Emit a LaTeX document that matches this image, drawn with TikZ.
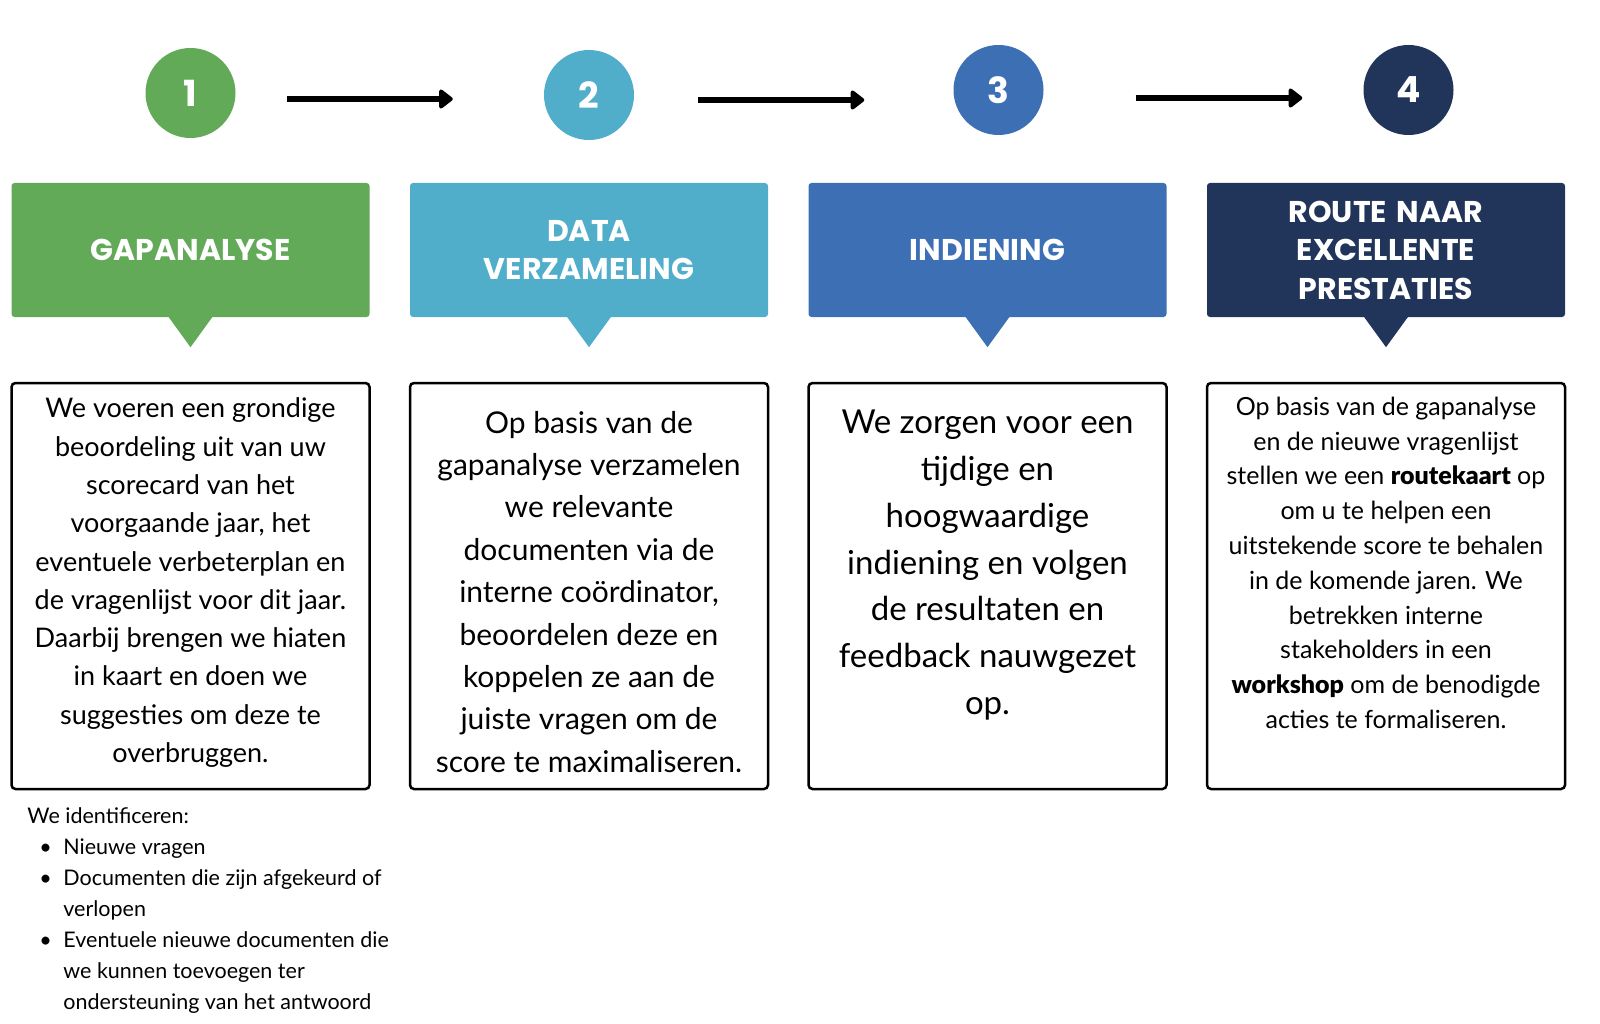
\documentclass[tikz,border=0pt]{standalone}
\usepackage{fontspec}
\setmainfont{Lato}
\newfontfamily\headfont{Poppins}
\newfontfamily\heavyfont{Lato Black}
\usetikzlibrary{positioning,arrows.meta}
\definecolor{gapgreen}{RGB}{98,170,88}
\definecolor{datablue}{RGB}{80,174,203}
\definecolor{indblue}{RGB}{61,111,180}
\definecolor{routenavy}{RGB}{33,53,90}
\newcommand{\keyword}[1]{{\heavyfont #1}}

\begin{document}
\begin{tikzpicture}[
		x=1pt, y=-1pt,
		node distance = 398.5pt,
		stepnum/.style={
			circle,
			minimum size=90pt,
			inner sep=0pt,
			text=white,
			font=\headfont\bfseries\fontsize{36}{36}\selectfont
			},
		header/.style={
			rectangle,
			rounded corners=3pt,
			minimum width=358pt,
			minimum height=134pt,
			text width=340pt,
			align=center,
			text=white,
			font=\headfont\bfseries\fontsize{30}{38.5}\selectfont
			},
		card/.style={
			rectangle,
			draw=black,
			line width=2.5pt,
			rounded corners=4pt,
			minimum width=358pt,
			minimum height=406pt
			},
		cardtext/.style={
			anchor=north,
			align=center,
			inner sep=0pt
			},
		line/.style={
			draw,
			line width=6pt,
			-{Triangle[length=15pt,width=22pt,round]}
			}]
	    \useasboundingbox (0,0) rectangle (1600,1024);

	    % Place nodes
	    \node [header, fill=gapgreen] (h1) at (190.5,250) {GAPANALYSE};
	    \node [header, fill=datablue, right of=h1] (h2) {DATA\\VERZAMELING};
	    \node [header, fill=indblue, right of=h2] (h3) {INDIENING};
	    \node [header, fill=routenavy, right of=h3] (h4) {ROUTE NAAR\\EXCELLENTE\\PRESTATIES};

	    \node [stepnum, fill=gapgreen, above of=h1, node distance=157pt] (c1) {1};
	    \node [stepnum, fill=datablue, above of=h2, node distance=155pt] (c2) {2};
	    \node [stepnum, fill=indblue, above of=h3, node distance=160pt, xshift=11pt] (c3) {3};
	    \node [stepnum, fill=routenavy, above of=h4, node distance=160pt, xshift=22.5pt] (c4) {4};

	    \node [card, below of=h1, node distance=336pt] (t1) {};
	    \node [card, below of=h2, node distance=336pt] (t2) {};
	    \node [card, below of=h3, node distance=336pt] (t3) {};
	    \node [card, below of=h4, node distance=336pt] (t4) {};

	    % Pointers under the headers
	    \foreach \h/\c in {h1/gapgreen, h2/datablue, h3/indblue, h4/routenavy}
	    	\fill [\c] ([xshift=-22.5pt, yshift=1pt]\h.south) -- ([xshift=22.5pt, yshift=1pt]\h.south) -- ([yshift=-30pt]\h.south) -- cycle;

	    % Card texts
	    \node [cardtext, font=\fontsize{27}{38.3}\selectfont] (d1) at ([yshift=-16pt]t1.north)
	    	{We voeren een grondige\\beoordeling uit van uw\\scorecard van het\\voorgaande jaar, het\\eventuele verbeterplan en\\de vragenlijst voor dit jaar.\\Daarbij brengen we hiaten\\in kaart en doen we\\suggesties om deze te\\overbruggen.};
	    \node [cardtext, font=\fontsize{30}{42.4}\selectfont] (d2) at ([yshift=-29pt]t2.north)
	    	{Op basis van de\\gapanalyse verzamelen\\we relevante\\documenten via de\\interne coördinator,\\beoordelen deze en\\koppelen ze aan de\\juiste vragen om de\\score te maximaliseren.};
	    \node [cardtext, font=\fontsize{33}{46.8}\selectfont] (d3) at ([yshift=-28pt]t3.north)
	    	{We zorgen voor een\\tijdige en\\hoogwaardige\\indiening en volgen\\de resultaten en\\feedback nauwgezet\\op.};
	    \node [cardtext, font=\fontsize{25}{34.8}\selectfont] (d4) at ([yshift=-15pt]t4.north)
	    	{Op basis van de gapanalyse\\en de nieuwe vragenlijst\\stellen we een \keyword{routekaart} op\\om u te helpen een\\uitstekende score te behalen\\in de komende jaren. We\\betrekken interne\\stakeholders in een\\\keyword{workshop} om de benodigde\\acties te formaliseren.};

	    \node [anchor=north west, align=left, inner sep=0pt, font=\fontsize{21.5}{31}\selectfont] (list) at ([xshift=17pt, yshift=-17pt]t1.south west)
	    	{We identificeren:\\
	    	\makebox[36pt][l]{\hspace{12pt}\textbullet}Nieuwe vragen\\
	    	\makebox[36pt][l]{\hspace{12pt}\textbullet}Documenten die zijn afgekeurd of\\
	    	\hspace*{36pt}verlopen\\
	    	\makebox[36pt][l]{\hspace{12pt}\textbullet}Eventuele nieuwe documenten die\\
	    	\hspace*{36pt}we kunnen toevoegen ter\\
	    	\hspace*{36pt}ondersteuning van het antwoord};

	    % Draw edges
	    \path [line, shorten <=51pt, shorten >=91pt] ([yshift=-6pt]c1.east) -- ([yshift=-6pt]c1.east -| c2.west);
	    \path [line, shorten <=64pt, shorten >=89pt] ([yshift=-5pt]c2.east) -- ([yshift=-5pt]c2.east -| c3.west);
	    \path [line, shorten <=92pt, shorten >=61pt] ([yshift=-8pt]c3.east) -- ([yshift=-8pt]c4.west);
	\end{tikzpicture}
\end{document}
